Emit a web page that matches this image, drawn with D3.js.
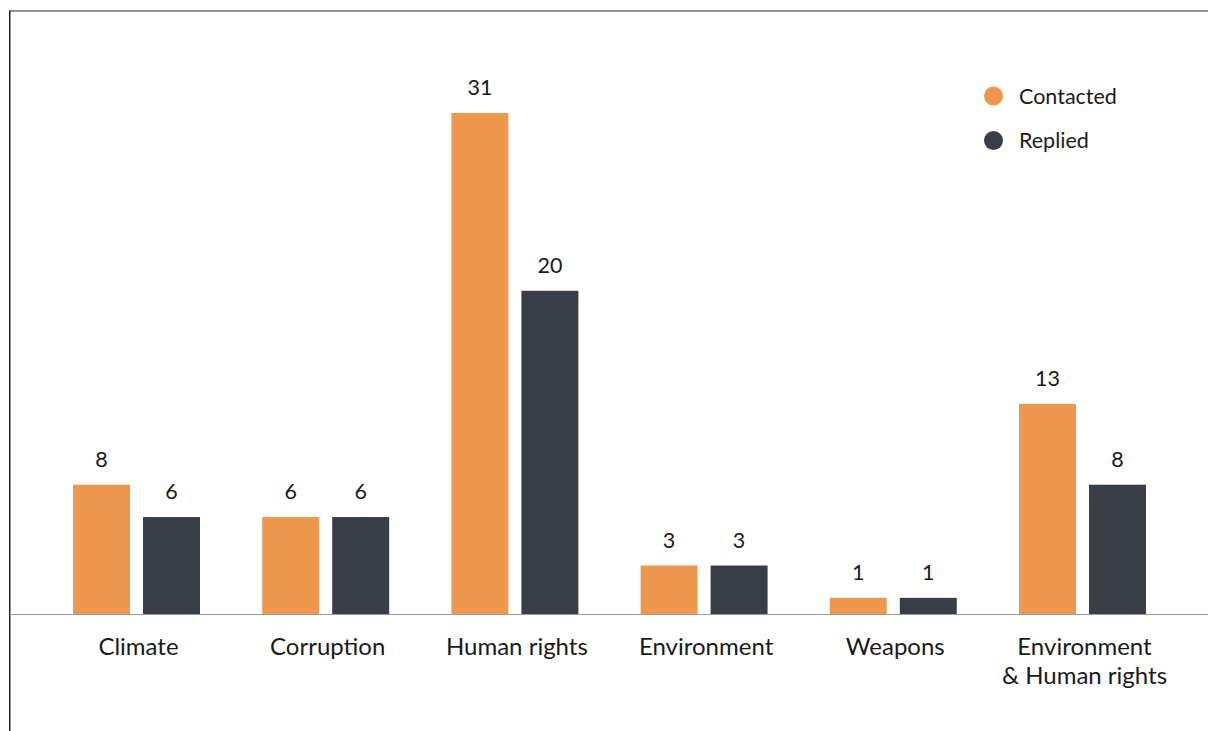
<!DOCTYPE html>
<html>
<head>
<meta charset="utf-8">
<script src="https://cdn.jsdelivr.net/npm/d3@7"></script>
<style>
  html, body { margin: 0; padding: 0; background: #fff; }
  svg { display: block; }
  text { font-family: Lato, "Open Sans", sans-serif; fill: #1a1a1a; }
</style>
</head>
<body>
<svg id="chart" width="1208" height="731"></svg>
<script>
const categories = ["Climate", "Corruption", "Human rights", "Environment", "Weapons", "Environment\n& Human rights"];
const seriesNames = ["Contacted", "Replied"];
const contacted = [8, 6, 31, 3, 1, 13];
const replied = [6, 6, 20, 3, 1, 8];
const colors = ["#ED984E", "#393D45"];

const svg = d3.select("#chart");
const W = 1208, H = 731;
const baseY = 614;

// frame
svg.append("line").attr("x1", 9.5).attr("x2", W).attr("y1", 11).attr("y2", 11)
  .attr("stroke", "#6a6a6a").attr("stroke-width", 1.5);
svg.append("line").attr("x1", 9.75).attr("x2", 9.75).attr("y1", 10.5).attr("y2", H)
  .attr("stroke", "#222").attr("stroke-width", 1.5);

const x0 = d3.scaleBand().domain(categories).range([41.9, 1177.1])
  .paddingInner(0.329).paddingOuter(0.1645);
const x1 = d3.scaleBand().domain(seriesNames).range([0, x0.bandwidth()]).paddingInner(0.186);
const y = d3.scaleLinear().domain([0, 31]).range([baseY, 113]);

const rows = categories.map((c, i) => ({ cat: c, vals: [
  { s: seriesNames[0], v: contacted[i] }, { s: seriesNames[1], v: replied[i] }] }));

const g = svg.append("g").selectAll("g").data(rows).join("g")
  .attr("transform", d => `translate(${x0(d.cat)},0)`);

g.selectAll("rect").data(d => d.vals).join("rect")
  .attr("x", d => x1(d.s)).attr("width", x1.bandwidth())
  .attr("y", d => y(d.v)).attr("height", d => y(0) - y(d.v))
  .attr("fill", (d, i) => colors[i]);

g.selectAll("text.val").data(d => d.vals).join("text").attr("class", "val")
  .attr("x", d => x1(d.s) + x1.bandwidth() / 2).attr("y", d => y(d.v) - 18)
  .attr("text-anchor", "middle").attr("font-size", 21.5).text(d => d.v);

// baseline axis
const axis = d3.axisBottom(x0).tickSize(0).tickFormat("");
const ax = svg.append("g").attr("transform", `translate(0,${baseY})`).call(axis);
ax.select(".domain").remove();
svg.append("line").attr("x1", 10).attr("x2", W).attr("y1", baseY + 0.5).attr("y2", baseY + 0.5)
  .attr("stroke", "#9a9a9a").attr("stroke-width", 1.2);

// category labels
const lab = svg.append("g").selectAll("text").data(categories).join("text")
  .attr("x", d => x0(d) + x0.bandwidth() / 2 + 2)
  .attr("y", 655).attr("text-anchor", "middle").attr("font-size", 24);
lab.each(function(d) {
  const lines = d.split("\n");
  const t = d3.select(this);
  lines.forEach((l, i) => t.append("tspan").attr("x", t.attr("x")).attr("dy", i === 0 ? 0 : 29).text(l));
});

// legend
const leg = svg.append("g").selectAll("g").data(seriesNames).join("g")
  .attr("transform", (d, i) => `translate(993.5,${96 + i * 44.5})`);
leg.append("circle").attr("r", 9.5).attr("fill", (d, i) => colors[i]);
leg.append("text").attr("x", 25.5).attr("y", 7.5).attr("font-size", 21.5).text(d => d);
</script>
</body>
</html>
